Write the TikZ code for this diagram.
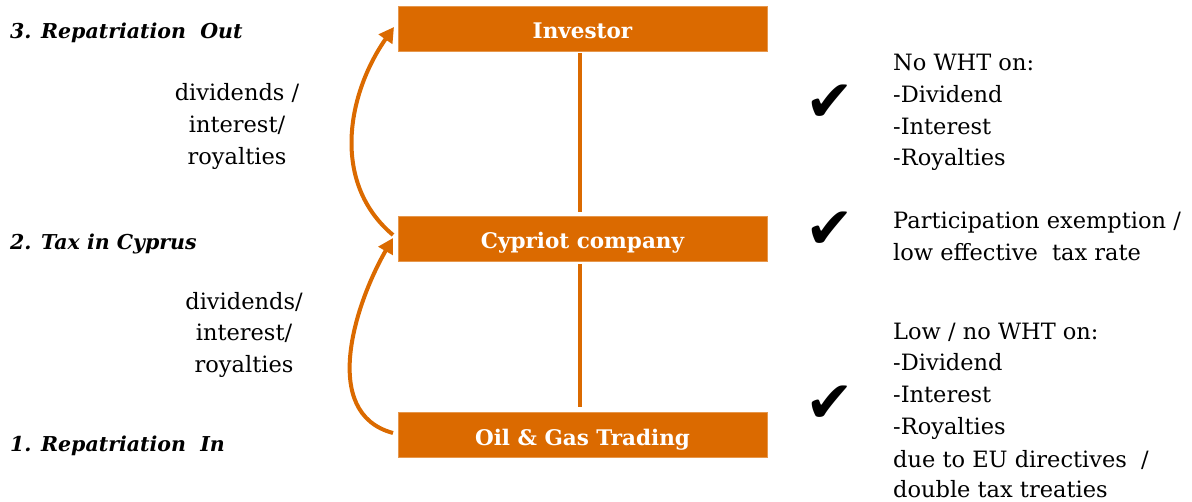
\documentclass[tikz,border=0pt]{standalone}
\usepackage{fontspec}
\setmainfont{DejaVu Serif}
\newfontfamily\checkfont{DejaVu Sans}
\usetikzlibrary{arrows.meta}
\definecolor{pwcorange}{HTML}{DB6A00}
\begin{document}
\begin{tikzpicture}[x=1pt,y=1pt,
  entity/.style={fill=pwcorange,draw=pwcorange!70!white,line width=0.5pt,minimum width=369pt,minimum height=45pt,inner sep=0pt,text height=21pt,text depth=0pt,text=white,font=\fontsize{21.5}{24}\selectfont\bfseries},
  link/.style={draw=pwcorange,line width=4.5pt},
  flow/.style={draw=pwcorange,line width=4pt,-{Triangle[length=15pt,width=16pt]}},
  stage/.style={anchor=base west,inner sep=0pt,font=\fontsize{20.5}{24}\selectfont\bfseries\itshape},
  body/.style={inner sep=0pt,font=\fontsize{22.5}{26}\selectfont},
  tick/.style={inner sep=0pt,font=\checkfont\fontsize{58}{60}\selectfont}]
\useasboundingbox (0,0) rectangle (1192,501);
% entities
\node[entity] (inv) at (582.5,472.5) {Investor};
\node[entity] (cyp) at (582.5,262.5) {Cypriot company};
\node[entity] (oil) at (582.5,66.5) {Oil \& Gas Trading};
% ownership lines
\draw[link] ([yshift=-2pt]inv.south -| 580,0) -- ([yshift=4pt]cyp.north -| 580,0);
\draw[link] ([yshift=-3pt]cyp.south -| 580,0) -- ([yshift=5pt]oil.north -| 580,0);
% flows
\coordinate (cypA) at (393,266);
\coordinate (cypB) at (393,263);
\coordinate (invA) at (394,474);
\coordinate (oilA) at (393,68);
\draw[flow] (cypA) to[out=140,in=235] (invA);
\draw[flow] (oilA) to[out=165,in=240] (cypB);
% stage labels
\node[stage] (s3) at (10,462) {3. Repatriation\ \ Out};
\node[stage] (s2) at (10,251) {2. Tax in Cyprus};
\node[stage] (s1) at (10,49) {1. Repatriation\ \ In};
% flow labels
\node[body,anchor=base] (u1) at (237,400) {dividends /};
\node[body,anchor=base] (u2) at (237,368) {interest/};
\node[body,anchor=base] (u3) at (237,336) {royalties};
\node[body,anchor=base] (l1) at (244,191) {dividends/};
\node[body,anchor=base] (l2) at (244,160) {interest/};
\node[body,anchor=base] (l3) at (244,128) {royalties};
% right text
\node[body,anchor=base west] (a1) at (893,430) {No WHT on:};
\node[body,anchor=base west] (a2) at (893,398) {-Dividend};
\node[body,anchor=base west] (a3) at (893,366) {-Interest};
\node[body,anchor=base west] (a4) at (893,335) {-Royalties};
\node[body,anchor=base west] (b1) at (893,272) {Participation exemption /};
\node[body,anchor=base west] (b2) at (893,240) {low effective\ \ tax rate};
\node[body,anchor=base west] (c1) at (893,161) {Low / no WHT on:};
\node[body,anchor=base west] (c2) at (893,130) {-Dividend};
\node[body,anchor=base west] (c3) at (893,98) {-Interest};
\node[body,anchor=base west] (c4) at (893,66) {-Royalties};
\node[body,anchor=base west] (c5) at (893,34) {due to EU directives\ \ /};
\node[body,anchor=base west] (c6) at (893,4) {double tax treaties};
% ticks
\node[tick] (t1) at (830,398) {✔};
\node[tick] (t2) at (830,271) {✔};
\node[tick] (t3) at (830,97) {✔};
\end{tikzpicture}
\end{document}
